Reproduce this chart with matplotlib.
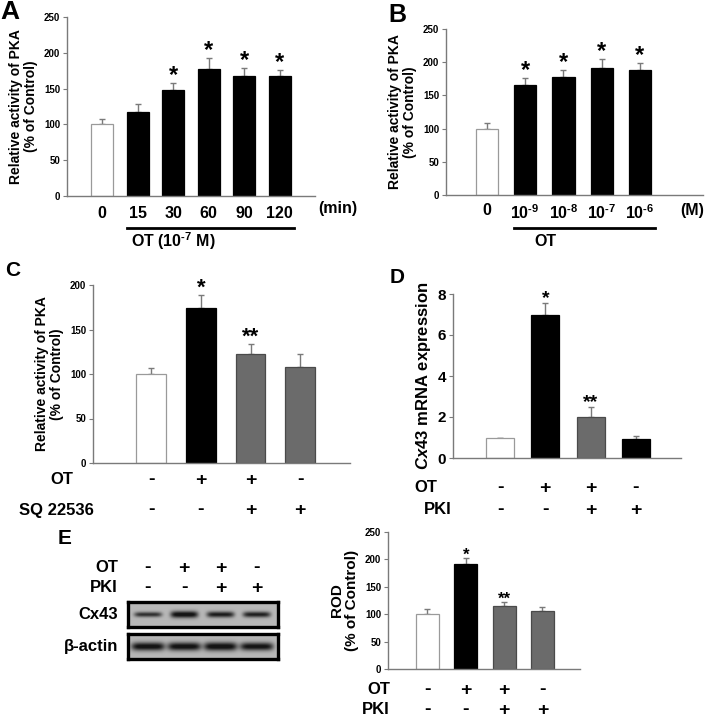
import matplotlib
matplotlib.use("Agg")
import matplotlib.pyplot as plt
import matplotlib.transforms as mtransforms
import numpy as np

plt.rcParams["font.family"] = "Liberation Sans"
plt.rcParams["font.weight"] = "bold"
plt.rcParams["mathtext.fontset"] = "custom"
plt.rcParams["mathtext.rm"] = "Liberation Sans:bold"
plt.rcParams["mathtext.bf"] = "Liberation Sans:bold"
plt.rcParams["mathtext.it"] = "Liberation Sans:bold:italic"
plt.rcParams["mathtext.default"] = "rm"

# ---- data ----
a_labels = ["0", "15", "30", "60", "90", "120"]
a_vals = [100, 117, 148, 178, 168, 167]
a_err = [8, 11, 10, 15, 11, 9]
a_stars = ["", "", "*", "*", "*", "*"]

b_labels = ["0", r"10$^{\text{-}9}$", r"10$^{\text{-}8}$", r"10$^{\text{-}7}$",
            r"10$^{\text{-}6}$"]
b_vals = [100, 165, 178, 191, 188]
b_err = [8, 11, 10, 14, 11]
b_stars = ["", "*", "*", "*", "*"]

c_vals = [100, 174, 123, 108]
c_err = [7, 15, 11, 15]
c_stars = ["", "*", "**", ""]
c_ot = ["-", "+", "+", "-"]
c_sq = ["-", "-", "+", "+"]

d_vals = [1.0, 7.0, 2.0, 0.95]
d_err = [0.0, 0.55, 0.5, 0.12]
d_stars = ["", "*", "**", ""]

rod_vals = [100, 191, 115, 105]
rod_err = [10, 11, 7, 8]
rod_stars = ["", "*", "**", ""]

ot_signs = ["-", "+", "+", "-"]
pki_signs = ["-", "-", "+", "+"]

cx43_band = [0.5, 1.0, 0.75, 0.7]
actin_band = [0.95, 0.95, 1.0, 0.9]

W, H = 706, 719
fig = plt.figure(figsize=(W / 100, H / 100), dpi=100)

WHITE, BLACK, GRAY = "white", "black", "#6b6b6b"
EDGE = {WHITE: "#9a9a9a", BLACK: "black", GRAY: "#4a4a4a"}
AXC = "#7a7a7a"
SIGN = 14


def box(x0, y0, x1, y1):
    return [x0 / W, 1 - y1 / H, (x1 - x0) / W, (y1 - y0) / H]


def ftext(x, y, s, **kw):
    fig.text(x / W, 1 - y / H, s, **kw)


def bar_panel(rect, vals, errs, colors, xlim, width, ylim, yticks, stars,
              star_size, tick_size=7):
    ax = fig.add_axes(box(*rect))
    x = np.arange(len(vals))
    ax.errorbar(x, vals, yerr=[np.zeros(len(errs)), errs], fmt="none",
                ecolor=AXC, elinewidth=1, capsize=2.5, capthick=1, zorder=1)
    ax.bar(x, vals, width, color=colors,
           edgecolor=[EDGE[c] for c in colors], linewidth=0.9, zorder=2)
    ax.set_xlim(*xlim)
    ax.set_ylim(*ylim)
    ax.set_yticks(yticks)
    ax.tick_params(axis="y", length=3, color=AXC, labelsize=tick_size, pad=2)
    ax.tick_params(axis="x", length=0, labelbottom=False)
    for side in ("top", "right"):
        ax.spines[side].set_visible(False)
    for side in ("left", "bottom"):
        ax.spines[side].set_color(AXC)
        ax.spines[side].set_linewidth(1)
    for xi, v, e, s in zip(x, vals, errs, stars):
        if s:
            ax.annotate(s, (xi, v + e), xytext=(0, -3), textcoords="offset points",
                        ha="center", va="bottom", fontsize=star_size,
                        fontweight="bold")
    return ax


def sign_row(ax, y_px, signs, size=SIGN):
    tr = mtransforms.blended_transform_factory(ax.transData, fig.transFigure)
    for i, s in enumerate(signs):
        ax.text(i, 1 - y_px / H, s, transform=tr, ha="center", va="center",
                fontsize=size, fontweight="bold")


def underline(ax, y_px, x0, x1):
    tr = mtransforms.blended_transform_factory(ax.transData, fig.transFigure)
    ax.plot([x0, x1], [1 - y_px / H] * 2, color="black", lw=2,
            transform=tr, clip_on=False)


# ---- A ----
axA = bar_panel((67, 17, 315, 196), a_vals, a_err, [WHITE] + [BLACK] * 5,
                (-0.99, 6.0), 0.62, (0, 250), range(0, 251, 50), a_stars, 17)
axA.set_xticks(range(len(a_labels)), a_labels)
axA.tick_params(axis="x", labelbottom=True, labelsize=11.5, pad=7)
underline(axA, 228, 0.7, 5.4)
ftext(173, 241, r"OT (10$^{\text{-}7}$ M)", ha="center", va="center", fontsize=11.5)
ftext(318, 208, "(min)", ha="left", va="center", fontsize=11.5)
axA.set_ylabel("Relative activity of PKA\n(% of Control)", fontsize=10,
               fontweight="bold", labelpad=4, linespacing=1.1)
ftext(0, 0, "A", ha="left", va="top", fontsize=19, fontweight="bold")

# ---- B ----
axB = bar_panel((446, 29, 703, 195), b_vals, b_err, [WHITE] + [BLACK] * 4,
                (-1.07, 5.65), 0.58, (0, 250), range(0, 251, 50), b_stars, 17)
axB.set_xticks(range(len(b_labels)), b_labels)
axB.tick_params(axis="x", labelbottom=True, labelsize=11.5, pad=6)
underline(axB, 228, 0.7, 4.4)
ftext(545, 241, "OT", ha="center", va="center", fontsize=11.5)
ftext(704, 210, "(M)", ha="right", va="center", fontsize=11.5)
axB.set_ylabel("Relative activity of PKA\n(% of Control)", fontsize=10,
               fontweight="bold", labelpad=4, linespacing=1.1)
ftext(388, 3, "B", ha="left", va="top", fontsize=18, fontweight="bold")

# ---- C ----
axC = bar_panel((93, 285, 350, 463), c_vals, c_err, [WHITE, BLACK, GRAY, GRAY],
                (-1.17, 4.0), 0.6, (0, 200), range(0, 201, 50), c_stars, 16)
sign_row(axC, 480, c_ot)
sign_row(axC, 510, c_sq)
ftext(62, 480, "OT", ha="center", va="center", fontsize=12)
ftext(56, 510, "SQ 22536", ha="center", va="center", fontsize=12)
axC.set_ylabel("Relative activity of PKA\n(% of Control)", fontsize=10,
               fontweight="bold", labelpad=4, linespacing=1.1)
ftext(5, 270, "C", ha="left", va="center", fontsize=15, fontweight="bold")

# ---- D ----
axD = bar_panel((453, 294, 681, 458), d_vals, d_err, [WHITE, BLACK, GRAY, BLACK],
                (-1.04, 4.0), 0.62, (0, 8), range(0, 9, 2), d_stars, 14,
                tick_size=11)
sign_row(axD, 488, ot_signs)
sign_row(axD, 510, pki_signs)
ftext(426, 488, "OT", ha="center", va="center", fontsize=12)
ftext(438, 510, "PKI", ha="center", va="center", fontsize=12)
axD.set_ylabel(r"$\mathit{Cx43}$ mRNA expression", fontsize=12,
               fontweight="bold", labelpad=3)
ftext(390, 278, "D", ha="left", va="center", fontsize=15, fontweight="bold")

# ---- E: blot ----
ftext(58, 538, "E", ha="left", va="center", fontsize=15, fontweight="bold")
lane_lim = (-0.55, 3.58)
xs = np.linspace(*lane_lim, 300)
ys = np.linspace(-1, 1, 60)
XX, YY = np.meshgrid(xs, ys)
bg, dark = 0.72, 0.08
blot_axes = []
for (y0, y1, bands, wid, hh, name) in [(602, 627, cx43_band, 0.38, 0.24, "Cx43"),
                                       (634, 659, actin_band, 0.46, 0.3, "β-actin")]:
    ax = fig.add_axes(box(128, y0, 278, y1))
    dens = np.zeros_like(XX)
    for i, amp in enumerate(bands):
        h = hh * (0.55 + 0.6 * amp)
        dens += (0.6 + 0.5 * amp) * np.exp(-((XX - i) / wid) ** 6) * np.exp(-(YY / h) ** 2)
    img = bg - np.clip(dens, 0, 1) * (bg - dark)
    ax.imshow(img, cmap="gray", vmin=0, vmax=1, aspect="auto",
              extent=(lane_lim[0], lane_lim[1], -1, 1), interpolation="bilinear")
    ax.set_xlim(*lane_lim)
    ax.set_xticks([])
    ax.set_yticks([])
    for sp in ax.spines.values():
        sp.set_linewidth(2.4)
        sp.set_color("black")
    ftext(118, (y0 + y1) / 2, name, ha="right", va="center", fontsize=12)
    blot_axes.append(ax)
sign_row(blot_axes[0], 568, ot_signs)
sign_row(blot_axes[0], 588, pki_signs)
ftext(118, 568, "OT", ha="right", va="center", fontsize=12)
ftext(118, 588, "PKI", ha="right", va="center", fontsize=12)

# ---- E: ROD ----
axE = bar_panel((388, 532, 580, 669), rod_vals, rod_err, [WHITE, BLACK, GRAY, GRAY],
                (-1.03, 3.98), 0.6, (0, 250), range(0, 251, 50), rod_stars, 12)
sign_row(axE, 690, ot_signs)
sign_row(axE, 710, pki_signs)
ftext(390, 690, "OT", ha="right", va="center", fontsize=12)
ftext(390, 710, "PKI", ha="right", va="center", fontsize=12)
axE.set_ylabel("ROD\n(% of Control)", fontsize=11, fontweight="bold",
               labelpad=4, linespacing=1.1)

fig.savefig("out.png", dpi=100, facecolor="white")
